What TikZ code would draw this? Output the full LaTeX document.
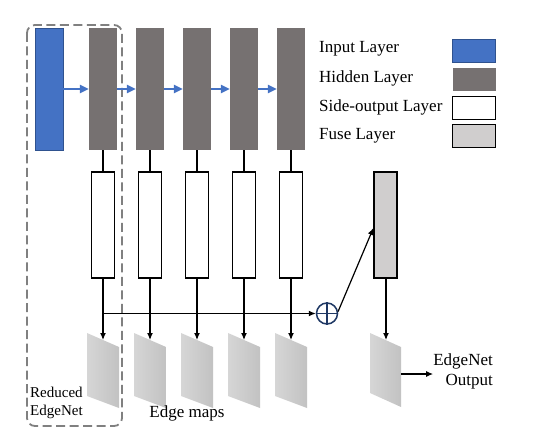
\documentclass[tikz,border=0pt]{standalone}
\usepackage{fontspec}
\setmainfont{Liberation Serif}
\usetikzlibrary{arrows.meta,calc}
\definecolor{inblue}{HTML}{4472C4}
\definecolor{inborder}{HTML}{2F528F}
\definecolor{hidgray}{HTML}{767171}
\definecolor{fusegray}{HTML}{D0CECE}
\definecolor{navy}{HTML}{1F3864}
\definecolor{dashgray}{HTML}{808080}
\definecolor{mapl}{HTML}{D6D6D6}
\definecolor{mapr}{HTML}{C2C2C2}
\tikzset{
  inputbox/.style={draw=inborder,line width=0.8pt,fill=inblue,minimum width=28pt,minimum height=122pt,inner sep=0pt},
  hiddenbox/.style={fill=hidgray,minimum width=28pt,minimum height=122pt,inner sep=0pt},
  sidebox/.style={draw=black,line width=1.5pt,fill=white,minimum width=23pt,minimum height=106pt,inner sep=0pt},
  fusebox/.style={draw=black,line width=1.2pt,fill=fusegray,minimum width=23pt,minimum height=106pt,inner sep=0pt},
  legbox/.style={minimum width=43pt,minimum height=23pt,inner sep=0pt},
  bluearrow/.style={draw=inblue,line width=2.2pt,-{Triangle[length=9pt,width=8pt]}},
  blackarrow/.style={draw=black,line width=1.2pt,-{Latex[length=7pt,width=6pt]}},
  plain/.style={draw=black,line width=1.2pt},
  lbl/.style={font=\fontsize{17}{20}\selectfont,inner sep=0pt},
  smalllbl/.style={font=\fontsize{15}{18}\selectfont,inner sep=0pt},
  mapshade/.style={left color=mapl,right color=mapr,draw=none}
}
\begin{document}
\begin{tikzpicture}[x=1pt,y=-1pt]
\useasboundingbox (0,0) rectangle (548,443);
% dashed reduced box
\draw[dashgray,line width=1.8pt,dash pattern=on 9pt off 4.5pt,rounded corners=8pt] (27,25) rectangle (122,426);
% input and hidden layers
\node[inputbox] (inp) at (49,89) {};
\foreach \i/\x in {1/103,2/150,3/197,4/244,5/291}{
  \node[hiddenbox] (h\i) at (\x,89) {};
  \node[sidebox] (s\i) at (\x,225) {};
  \shade[mapshade] (\x-16,333) -- (\x+16,347) -- (\x+16,408) -- (\x-16,396) -- cycle;
  \coordinate (m\i) at (\x,340);
}
% blue arrows
\draw[bluearrow] (inp.east) -- (h1.west);
\draw[bluearrow] (h1.east) -- (h2.west);
\draw[bluearrow] (h2.east) -- (h3.west);
\draw[bluearrow] (h3.east) -- (h4.west);
\draw[bluearrow] (h4.east) -- (h5.west);
% hidden to side
\foreach \i in {1,...,5}{
  \draw[plain] (h\i.south) -- (s\i.north);
  \draw[blackarrow] (s\i.south) -- (m\i);
}
% fuse
\node[fusebox] (fuse) at (385.5,225) {};
\node[circle,draw=navy,line width=1.5pt,minimum size=21pt,inner sep=0pt] (plus) at (327,313.5) {};
\draw[navy,line width=1.5pt] (plus.north) -- (plus.south) (plus.west) -- (plus.east);
\coordinate (j) at (103,313.5);
\draw[blackarrow] (j) -- (plus.west);
\draw[blackarrow] (plus.10) -- ($(fuse.west)+(0,3)$);
% output map
\shade[mapshade] (370,333) -- (401,347) -- (401,407) -- (370,393) -- cycle;
\coordinate (mo) at (386,340);
\coordinate (moe) at (401,374);
\draw[blackarrow] (fuse.south -| mo) -- (mo);
\node[lbl,anchor=east,align=right] (outtxt) at (493,371) {EdgeNet\\Output};
\draw[blackarrow] (moe) -- (outtxt.west |- moe);
% texts
\node[lbl] (edgemaps) at (187,413) {Edge maps};
\node[smalllbl,anchor=west,align=left] (reduced) at (30,403) {Reduced\\EdgeNet};
% legend
\node[lbl,anchor=west] (l1) at (319,49) {Input Layer};
\node[lbl,anchor=west] (l2) at (319,78) {Hidden Layer};
\node[lbl,anchor=west] (l3) at (319,107) {Side-output Layer};
\node[lbl,anchor=west] (l4) at (319,135.5) {Fuse Layer};
\node[legbox,draw=inborder,line width=0.8pt,fill=inblue] (b1) at (474,51) {};
\node[legbox,fill=hidgray] (b2) at (474,79.5) {};
\node[legbox,draw=black,line width=1.5pt,fill=white] (b3) at (474,108) {};
\node[legbox,draw=black,line width=1.5pt,fill=fusegray] (b4) at (474,136) {};
\end{tikzpicture}
\end{document}
